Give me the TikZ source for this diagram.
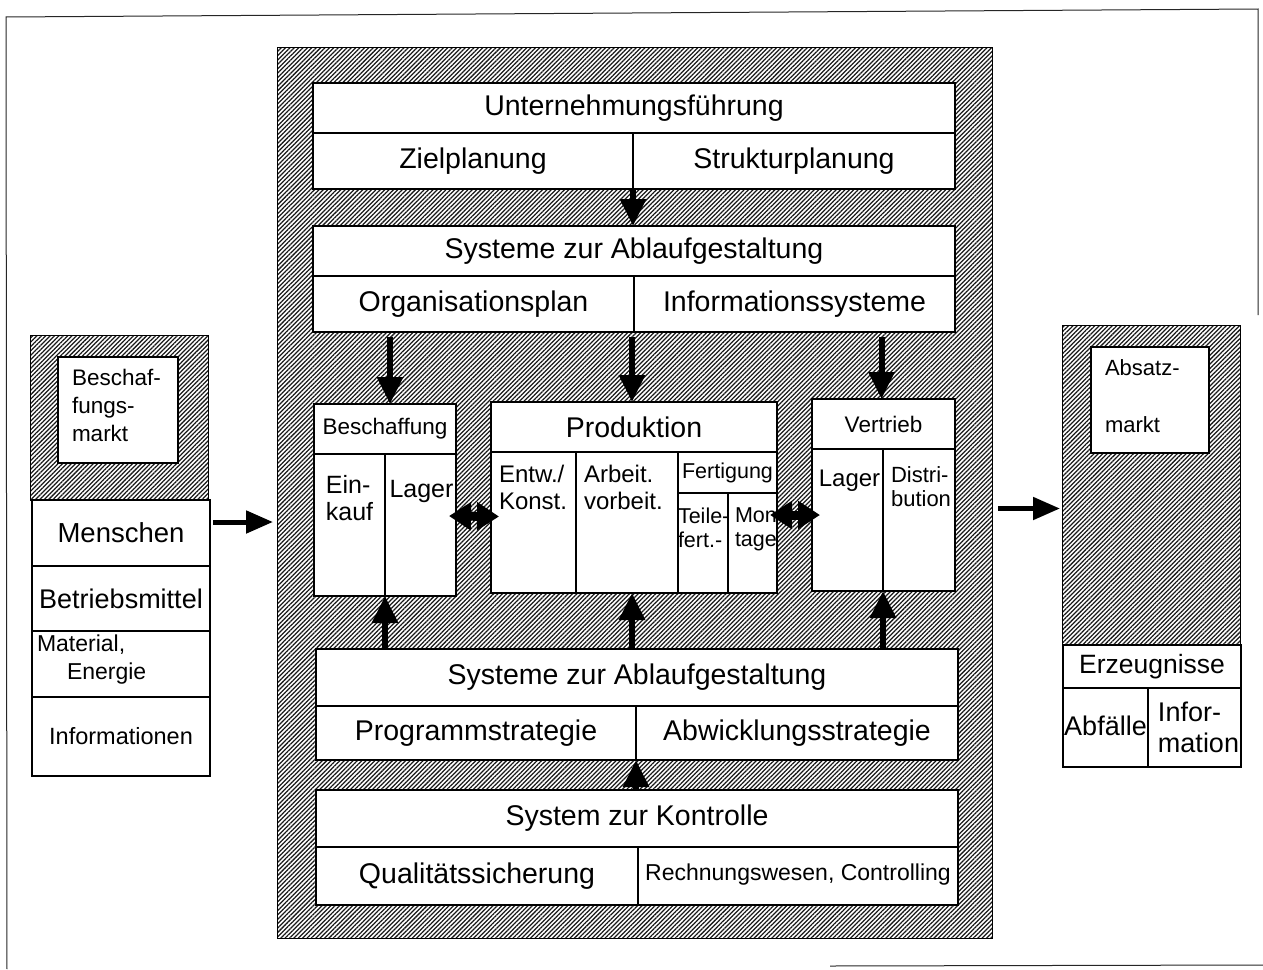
\documentclass[tikz,border=0pt]{standalone}
\usepackage{fontspec}
\setmainfont{Liberation Sans}
\usetikzlibrary{arrows.meta,patterns.meta,calc}

% box of given corners: [options]{name}{x1}{y1}{x2}{y2}{text}
\newcommand{\cellbox}[7][]{%
  \node[cell,minimum width={#5-#3},minimum height={#6-#4},#1] (#2) at (#3,#4) {#7};}
\newcommand{\hatchbox}[6][]{%
  \node[hatched,minimum width={#5-#3},minimum height={#6-#4},#1] (#2) at (#3,#4) {};}

\tikzset{
  cell/.style={draw=black,line width=1.2pt,fill=white,anchor=north west,
    inner sep=0pt,outer sep=0pt,align=center},
  hatched/.style={draw=black,line width=1pt,anchor=north west,inner sep=0pt,
    outer sep=0pt,pattern={Lines[angle=45,distance=3.1pt,line width=1.25pt]},
    pattern color=black!90},
  txt/.style={inner sep=0pt,outer sep=0pt,align=left},
  fL/.style={font=\fontsize{28.5}{31}\selectfont},
  fK/.style={font=\fontsize{25}{27}\selectfont},
  fE/.style={font=\fontsize{24}{27}\selectfont},
  fS/.style={font=\fontsize{22.5}{28}\selectfont},
  fT/.style={font=\fontsize{21.5}{24}\selectfont},
  arrV/.style={line width=6pt,-{Triangle[length=27pt,width=25pt]}},
  arrH/.style={line width=5pt,-{Triangle[length=27pt,width=22pt]}},
  dbl/.style={line width=9pt,{Triangle[length=22pt,width=27pt]}-{Triangle[length=22pt,width=27pt]}},
  frame/.style={line width=1pt,black!85}
}

\begin{document}
\begin{tikzpicture}[x=1pt,y=-1pt]
\useasboundingbox (0,0) rectangle (1263,969);

% outer frame
\draw[frame] (1258,315) -- (1258,9) -- (6,17) -- (7,969);
\draw[frame] (830,966) -- (1263,965);

% ---- central enterprise block ----
\hatchbox{core}{277}{47}{992}{938}

\cellbox[fL]{fuehr}{313}{83}{955}{133}{Unternehmungsführung}
\cellbox[fL]{ziel}{313}{133}{633}{189}{Zielplanung}
\cellbox[fL]{strukt}{633}{133}{955}{189}{Strukturplanung}

\cellbox[fL]{sysA}{313}{226}{955}{276}{Systeme zur Ablaufgestaltung}
\cellbox[fL]{orga}{313}{276}{634}{332}{Organisationsplan}
\cellbox[fL]{info}{634}{276}{955}{332}{Informationssysteme}

% Beschaffung
\cellbox[fS]{besch}{314}{404}{456}{454}{\raisebox{-3pt}{Beschaffung}}
\cellbox{einkauf}{314}{454}{385}{596}{}
\cellbox{lagerB}{385}{454}{456}{596}{}
\node[txt,fK,anchor=north] (einkaufT) at ($(einkauf.north)+(0,21)$) {Ein-\\kauf};
\node[txt,fK,anchor=north] (lagerBT) at ($(lagerB.north)+(1,26)$) {Lager};

% Produktion
\cellbox[fL]{prod}{491}{402}{777}{452}{Produktion}
\cellbox{entw}{491}{452}{576}{593}{}
\cellbox{arbeit}{576}{452}{678}{593}{}
\cellbox[fT]{fert}{678}{452}{777}{493}{Fertigung}
\cellbox{teile}{678}{493}{728}{593}{}
\cellbox{montage}{728}{493}{777}{593}{}
\node[txt,fE,anchor=north west] (entwT) at ($(entw.north west)+(8,13)$) {Entw./\\Konst.};
\node[txt,fE,anchor=north west] (arbeitT) at ($(arbeit.north west)+(8,13)$) {Arbeit.\\vorbeit.};
\node[txt,fT,anchor=north west] (teileT) at ($(teile.north west)+(0,15)$) {Teile-\\fert.-};
\node[txt,fT,anchor=north west] (montageT) at ($(montage.north west)+(7,15)$) {Mon-\\tage};

% Vertrieb
\cellbox[fS]{vertr}{812}{399}{955}{449}{Vertrieb}
\cellbox{lagerV}{812}{449}{883}{591}{}
\cellbox{distr}{883}{449}{955}{591}{}
\node[txt,fE,anchor=north] (lagerVT) at ($(lagerV.north)+(2,21)$) {Lager};
\node[txt,font=\fontsize{22}{24}\selectfont,anchor=north] (distrT) at ($(distr.north)+(2,18)$) {Distri-\\bution};

\cellbox[fL]{sysB}{316}{649}{958}{706}{Systeme zur Ablaufgestaltung}
\cellbox[fL]{prog}{316}{706}{636}{760}{Programmstrategie}
\cellbox[fL]{abw}{636}{706}{958}{760}{Abwicklungsstrategie}

\cellbox[fL]{kontr}{316}{790}{958}{847}{System zur Kontrolle}
\cellbox[fL]{quali}{316}{847}{638}{905}{Qualitätssicherung}
\cellbox[font=\fontsize{23}{26}\selectfont]{rechn}{638}{847}{958}{905}{\raisebox{8pt}{Rechnungswesen, Controlling}}

% ---- procurement market ----
\hatchbox{lhatch}{30}{335}{208}{500}
\cellbox{beschmarkt}{58}{357}{178}{463}{}
\node[txt,fS,anchor=north west] (beschmarktT) at ($(beschmarkt.north west)+(14,12)$) {Beschaf-\\fungs-\\markt};
\cellbox[font=\fontsize{27.5}{30}\selectfont]{menschen}{32}{500}{210}{566}{Menschen}
\cellbox[font=\fontsize{27}{30}\selectfont]{betrieb}{32}{566}{210}{631}{Betriebsmittel}
\cellbox{material}{32}{631}{210}{697}{}
\node[txt,font=\fontsize{23}{28}\selectfont,anchor=north west] (materialT) at ($(material.north west)+(5,4)$) {Material,\\\hspace*{30pt}Energie};
\cellbox[font=\fontsize{23.5}{26}\selectfont]{informationen}{32}{697}{210}{776}{Informationen}

% ---- sales market ----
\hatchbox{rhatch}{1062}{325}{1240}{645}
\cellbox{absatz}{1091}{347}{1209}{453}{}
\node[txt,font=\fontsize{22}{57}\selectfont,anchor=north west] (absatzT) at ($(absatz.north west)+(14,13)$) {Absatz-\\markt};
\cellbox[font=\fontsize{26.5}{30}\selectfont]{erzeug}{1063}{645}{1241}{688}{Erzeugnisse}
\cellbox[font=\fontsize{27}{30}\selectfont]{abfaelle}{1063}{688}{1148}{767}{\raisebox{4pt}{Abfälle}}
\cellbox{inform}{1148}{688}{1241}{767}{}
\node[txt,font=\fontsize{27}{31}\selectfont,anchor=north] (informT) at ($(inform.north)+(4,14)$) {Infor-\\mation};

% ---- flows ----
\draw[arrV] (ziel.south east) -- (ziel.south east |- sysA.north);
\draw[arrV] ($(orga.south -| besch.north)+(5,5)$) -- ($(besch.north)+(5,0)$);
\draw[arrV] ($(orga.south -| prod.north)+(-2,5)$) -- ($(prod.north)+(-2,0)$);
\draw[arrV] ($(info.south -| vertr.north)+(-2,5)$) -- ($(vertr.north)+(-2,0)$);

\draw[dbl] ($(lagerB.east)+(-7,-9)$) -- ($(entw.west)+(8,-6)$);
\draw[dbl] ($(montage.east)+(-7,-28)$) -- ($(lagerV.west)+(8,-5)$);

\draw[arrV] (sysB.north -| lagerB.south west) -- (lagerB.south west);
\draw[arrV] ($(sysB.north -| prod.south)+(-2,0)$) -- ($(prod.south |- entw.south)+(-2,0)$);
\draw[arrV] (sysB.north -| lagerV.south east) -- (lagerV.south east);
\draw[arrV] (kontr.north -| prog.south east) -- (prog.south east);

\draw[arrH] ($(menschen.north east)+(3,22)$) -- ($(menschen.north east -| core.west)+(-4,22)$);
\draw[arrH] ($(core.east)+(6,16)$) -- ($(core.east -| rhatch.west)+(-2,16)$);
\end{tikzpicture}
\end{document}
